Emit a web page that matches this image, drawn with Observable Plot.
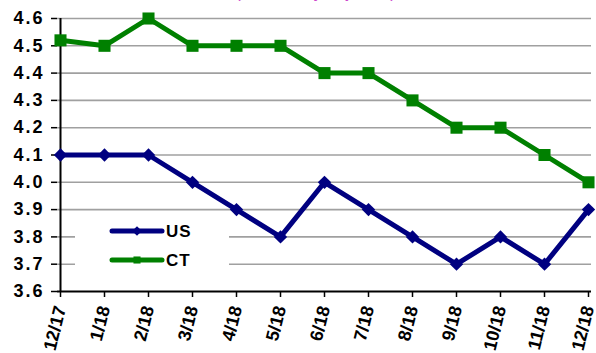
<!DOCTYPE html>
<html><head>
<meta charset="utf-8">
<script src="https://cdn.jsdelivr.net/npm/d3@7"></script>
<script src="https://cdn.jsdelivr.net/npm/@observablehq/plot@0.6"></script>
<style>
body{margin:0;background:#fff}
#wrap{position:relative;width:596px;height:353px;overflow:hidden;background:#fff}
#legend{position:absolute;left:75px;top:213px;width:154px;height:62px;background:#fff}
</style>
</head><body>
<div id="wrap"></div>
<script>
const months = ["12/17","1/18","2/18","3/18","4/18","5/18","6/18","7/18","8/18","9/18","10/18","11/18","12/18"];
const usValues = [4.1,4.1,4.1,4.0,3.9,3.8,4.0,3.9,3.8,3.7,3.8,3.7,3.9];
const ctValues = [4.52,4.5,4.6,4.5,4.5,4.5,4.4,4.4,4.3,4.2,4.2,4.1,4.0];
const yTicks = [3.6,3.7,3.8,3.9,4.0,4.1,4.2,4.3,4.4,4.5,4.6];
const seriesNames = ["US","CT"];
const seriesColors = ["#000080","#008000"];
const seriesSymbols = ["diamond2","square"];
const titleText = "(Seasonally Adjusted)";

const rows = [];
months.forEach((m,i)=>{
  rows.push({month:m, value:usValues[i], series:"US"});
  rows.push({month:m, value:ctValues[i], series:"CT"});
});
const us = rows.filter(d=>d.series==="US");
const ct = rows.filter(d=>d.series==="CT");

const chart = Plot.plot({
  width:596, height:353,
  marginLeft:57, marginRight:5, marginTop:18, marginBottom:62,
  style:{fontFamily:'"Liberation Sans", Arial, sans-serif', fontWeight:"bold", color:"#000", background:"#fff", overflow:"hidden"},
  x:{type:"point", domain:months, padding:0},
  y:{domain:[3.6,4.6]},
  marks:[
    Plot.gridY(yTicks.slice(1), {stroke:"#a0a0a0", strokeOpacity:1, strokeWidth:1.6}),
    Plot.axisY(yTicks, {tickFormat:d=>d.toFixed(1), label:null, tickSize:6, tickPadding:7, fontSize:18, stroke:"#000", strokeWidth:1.5}),
    Plot.axisX(months, {label:null, tickRotate:-76, tickSize:6, tickPadding:9, fontSize:18, stroke:"#000", strokeWidth:1.5}),
    Plot.ruleX([months[0]], {stroke:"#000", strokeWidth:2}),
    Plot.ruleY([3.6], {stroke:"#000", strokeWidth:2}),
    Plot.line(us, {x:"month", y:"value", stroke:seriesColors[0], strokeWidth:5}),
    Plot.dot(us, {x:"month", y:"value", fill:seriesColors[0], symbol:seriesSymbols[0], r:6}),
    Plot.line(ct, {x:"month", y:"value", stroke:seriesColors[1], strokeWidth:5}),
    Plot.dot(ct, {x:"month", y:"value", fill:seriesColors[1], symbol:seriesSymbols[1], r:6.8}),
    Plot.text([titleText], {frameAnchor:"top", dx:-9, dy:-20.5, lineAnchor:"bottom", fill:"#cc44cc", fontSize:16.6, fontWeight:"normal"})
  ]
});
d3.select(chart).selectAll('g[aria-label="y-axis tick label"] text').attr("letter-spacing", "2px");
const wrap = document.getElementById("wrap");
wrap.appendChild(chart);

const legend = document.createElement("div");
legend.id = "legend";
const ns = "http://www.w3.org/2000/svg";
const lsvg = document.createElementNS(ns,"svg");
lsvg.setAttribute("width",154); lsvg.setAttribute("height",62);
seriesNames.forEach((name,i)=>{
  const y = 18 + i*29;
  const line = document.createElementNS(ns,"line");
  line.setAttribute("x1",37); line.setAttribute("x2",87);
  line.setAttribute("y1",y); line.setAttribute("y2",y);
  line.setAttribute("stroke",seriesColors[i]); line.setAttribute("stroke-width",5);
  line.setAttribute("stroke-linecap","round");
  lsvg.appendChild(line);
  const sym = document.createElementNS(ns,"path");
  const s = seriesSymbols[i]==="square" ? d3.symbolSquare : d3.symbolDiamond2;
  sym.setAttribute("d", d3.symbol(s, seriesSymbols[i]==="square"? 50 : 60)());
  sym.setAttribute("transform",`translate(62,${y})`);
  sym.setAttribute("fill",seriesColors[i]);
  lsvg.appendChild(sym);
  const t = document.createElementNS(ns,"text");
  t.setAttribute("x",91); t.setAttribute("y",y+6);
  t.setAttribute("font-family",'"Liberation Sans", Arial, sans-serif');
  t.setAttribute("font-weight","bold"); t.setAttribute("font-size","17");
  t.setAttribute("letter-spacing","1px");
  t.textContent = name;
  lsvg.appendChild(t);
});
legend.appendChild(lsvg);
wrap.appendChild(legend);
</script>
</body></html>
